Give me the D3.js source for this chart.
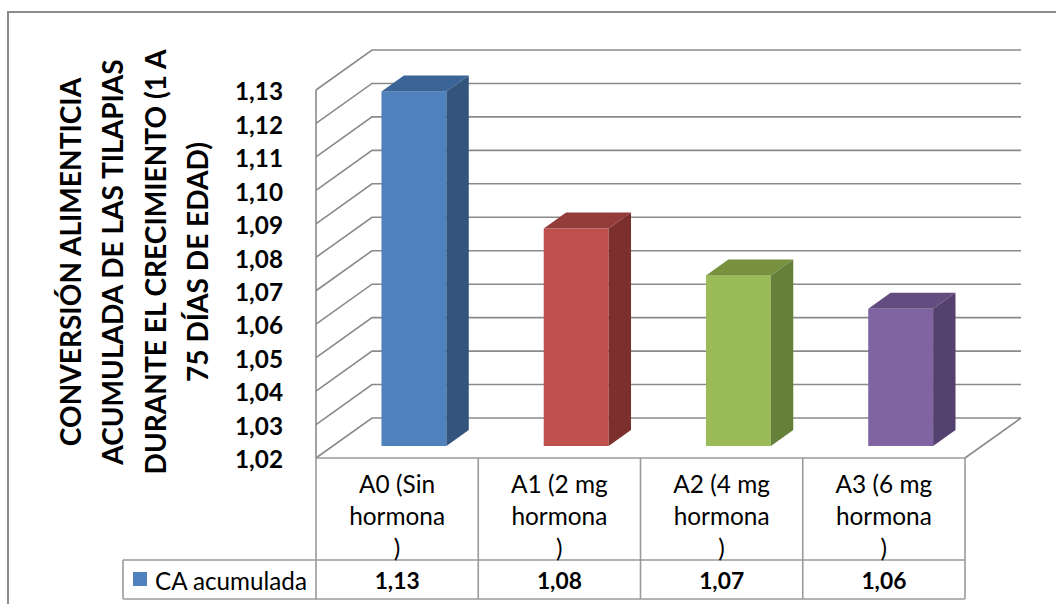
<!DOCTYPE html>
<html>
<head>
<meta charset="utf-8">
<script src="https://cdn.jsdelivr.net/npm/d3@7"></script>
<style>
  html, body { margin: 0; padding: 0; background: #fff; }
  svg { display: block; }
  text { font-family: Lato, "Open Sans", "Liberation Sans", sans-serif; fill: #000; }
</style>
</head>
<body>
<svg id="chart" width="1056" height="604"></svg>
<script>
// ---- data ----
const categories = ["A0", "A1", "A2", "A3"];
const categoryLines = [
  ["A0 (Sin", "hormona", ")"],
  ["A1 (2 mg", "hormona", ")"],
  ["A2 (4 mg", "hormona", ")"],
  ["A3 (6 mg", "hormona", ")"]
];
const seriesName = "CA acumulada";
const values = [1.126, 1.085, 1.071, 1.061];
const yTickValues = [1.02, 1.03, 1.04, 1.05, 1.06, 1.07, 1.08, 1.09, 1.10, 1.11, 1.12, 1.13];
const titleLines = [
  "CONVERSIÓN ALIMENTICIA",
  "ACUMULADA DE LAS TILAPIAS",
  "DURANTE EL CRECIMIENTO (1 A",
  "75 DÍAS DE EDAD)"
];
const frontColors = ["#4F81BD", "#C0504D", "#9BBB59", "#8064A2"];
const topColors   = ["#3C6597", "#933C3A", "#77913F", "#634C80"];
const sideColors  = ["#32547D", "#7C302E", "#66803A", "#55416F"];

// ---- layout ----
const svg = d3.select("#chart");
const locale = d3.formatLocale({decimal: ",", thousands: ".", grouping: [3], currency: ["", ""]});
const fmt = locale.format(".2f");

const plotX0 = 316, plotX1 = 965;
const plotYTop = 90, plotYBot = 458;
const depthX = 56, depthY = -40;
const gridColor = "#8a8a8a";
const tableColor = "#9a9a9a";

const x = d3.scaleBand().domain(categories).range([plotX0, plotX1]).paddingInner(0.6).paddingOuter(0.3);
const xCell = d3.scaleBand().domain(categories).range([plotX0, plotX1]);
const y = d3.scaleLinear().domain([1.02, 1.13]).range([plotYBot, plotYTop]);

// outer border
svg.append("rect").attr("x", 8).attr("y", 12).attr("width", 1100).attr("height", 700)
  .attr("fill", "none").attr("stroke", "#8c8c8c").attr("stroke-width", 2);

// gridlines (side wall + back wall)
const grid = svg.append("g").attr("stroke", gridColor).attr("stroke-width", 1.6).attr("fill", "none");
yTickValues.forEach(t => {
  const yf = y(t);
  grid.append("polyline")
    .attr("points", [[plotX0, yf], [plotX0 + depthX, yf + depthY], [plotX1 + depthX, yf + depthY]].map(p => p.join(",")).join(" "));
});
// floor right edge
grid.append("line").attr("x1", plotX1).attr("y1", plotYBot).attr("x2", plotX1 + depthX).attr("y2", plotYBot + depthY);
// vertical axis line
grid.append("line").attr("x1", plotX0).attr("y1", plotYTop).attr("x2", plotX0).attr("y2", plotYBot);

// bars
const f0 = 0.3, f1 = 0.7;
const bars = svg.append("g");
categories.forEach((c, i) => {
  const xb = x(c), bw = x.bandwidth();
  const yv = y(values[i]), y0 = y(1.02);
  const ax = xb + f0 * depthX, ay = f0 * depthY;
  const bx = xb + f1 * depthX, by = f1 * depthY;
  // front
  bars.append("rect").attr("x", ax).attr("y", yv + ay).attr("width", bw).attr("height", y0 - yv)
    .attr("fill", frontColors[i]);
  // top
  bars.append("polygon").attr("points",
    [[ax, yv + ay], [ax + bw, yv + ay], [bx + bw, yv + by], [bx, yv + by]].map(p => p.join(",")).join(" "))
    .attr("fill", topColors[i]);
  // side
  bars.append("polygon").attr("points",
    [[ax + bw, yv + ay], [bx + bw, yv + by], [bx + bw, y0 + by], [ax + bw, y0 + ay]].map(p => p.join(",")).join(" "))
    .attr("fill", sideColors[i]);
});

// y axis tick labels
const yAxis = d3.axisLeft(y).tickValues(yTickValues).tickFormat(fmt).tickSize(0).tickPadding(0);
const yg = svg.append("g").attr("transform", "translate(283,2)").call(yAxis);
yg.select(".domain").remove();
yg.selectAll("text").attr("font-weight", "bold").attr("font-family", "Lato, 'Open Sans', sans-serif");

// fit helper
function fitFont(sel, target, start) {
  sel.attr("font-size", start);
  let maxW = 0;
  sel.each(function() { maxW = Math.max(maxW, this.getComputedTextLength()); });
  sel.attr("font-size", start * target / maxW);
}
fitFont(yg.selectAll("text"), 48, 24);

// title
const titleG = svg.append("g").attr("transform", "translate(70,262) rotate(-90)");
const tt = titleG.selectAll("text").data(titleLines).join("text")
  .attr("x", 0).attr("y", (d, i) => i * 42.3)
  .attr("text-anchor", "middle").attr("dominant-baseline", "central")
  .attr("font-weight", "bold").text(d => d);
fitFont(tt, 425, 30);

// table
const tbl = svg.append("g").attr("stroke", tableColor).attr("stroke-width", 1.6).attr("fill", "none");
const rowTop = plotYBot, rowMid = 560, rowBot = 599, legendX = 123;
tbl.append("line").attr("x1", plotX0).attr("y1", rowTop).attr("x2", plotX1).attr("y2", rowTop);
tbl.append("line").attr("x1", legendX).attr("y1", rowMid).attr("x2", plotX1).attr("y2", rowMid);
tbl.append("line").attr("x1", legendX).attr("y1", rowBot).attr("x2", plotX1).attr("y2", rowBot);
tbl.append("line").attr("x1", legendX).attr("y1", rowMid).attr("x2", legendX).attr("y2", rowBot);
tbl.append("line").attr("x1", plotX0).attr("y1", rowTop).attr("x2", plotX0).attr("y2", rowBot);
categories.forEach(c => {
  const xr = xCell(c) + xCell.bandwidth();
  tbl.append("line").attr("x1", xr).attr("y1", rowTop).attr("x2", xr).attr("y2", rowBot);
});

// category labels
const catG = svg.append("g");
const catTexts = [];
categories.forEach((c, i) => {
  const cx = xCell(c) + xCell.bandwidth() / 2;
  categoryLines[i].forEach((ln, j) => {
    catG.append("text").attr("x", cx).attr("y", 483 + j * 32)
      .attr("text-anchor", "middle").attr("dominant-baseline", "central").text(ln);
  });
});
fitFont(catG.selectAll("text").filter(function() { return this.textContent === "hormona"; }), 96, 22);
catG.selectAll("text").attr("font-size", catG.select("text:nth-child(2)").attr("font-size"));

// values row
const valG = svg.append("g");
const vt = valG.selectAll("text").data(categories).join("text")
  .attr("x", d => xCell(d) + xCell.bandwidth() / 2).attr("y", 580)
  .attr("text-anchor", "middle").attr("dominant-baseline", "central")
  .attr("font-weight", "bold").text((d, i) => fmt(values[i]));
fitFont(vt, 45, 22);

// legend key
svg.append("rect").attr("x", 133).attr("y", 572).attr("width", 14).attr("height", 14).attr("fill", frontColors[0]);
const lt = svg.append("text").attr("x", 155).attr("y", 580).attr("dominant-baseline", "central").text(seriesName);
fitFont(lt, 152, 22);
</script>
</body>
</html>
